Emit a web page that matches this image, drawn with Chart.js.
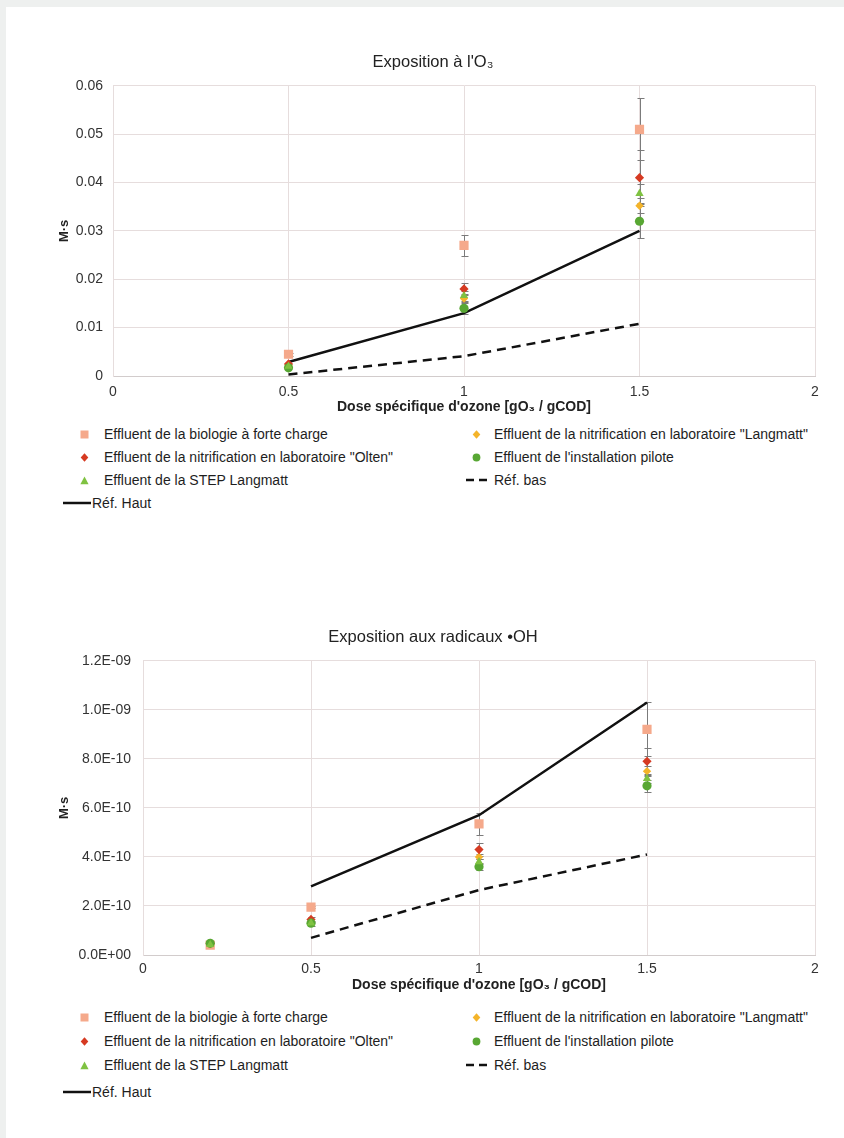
<!DOCTYPE html>
<html lang="fr">
<head>
<meta charset="utf-8">
<title>Exposition à l'O3 et aux radicaux OH</title>
<script src="https://cdn.jsdelivr.net/npm/chart.js@4.4.1/dist/chart.umd.min.js"></script>
<style>
  body { margin: 0; width: 844px; height: 1138px; background: #eef0ef; position: relative; overflow: hidden;
         font-family: 'Liberation Sans', Arial, sans-serif; }
  #panel { position: absolute; left: 6px; top: 7px; right: 0; bottom: 0; background: #fff; }
  .box { position: absolute; left: 0; width: 844px; }
  .item { position: absolute; white-space: nowrap; font-size: 14px; line-height: 16px; height: 16px; color: #1e1e1e;
          transform: translateY(-50%); }
  .sym { position: absolute; display: block; }
  .sym svg { display: block; }
</style>
</head>
<body>
<div id="panel"></div>
<div class="box" style="top:0;height:420px"><canvas id="chartO3"></canvas></div>
<div class="box" style="top:600px;height:400px"><canvas id="chartOH"></canvas></div>
<div id="legendO3"></div>
<div id="legendOH"></div>
<script>
// series names, legend order (Excel fills the legend row by row)
const seriesNames = [
    'Effluent de la biologie à forte charge',
    'Effluent de la nitrification en laboratoire "Langmatt"',
    'Effluent de la nitrification en laboratoire "Olten"',
    "Effluent de l'installation pilote",
    'Effluent de la STEP Langmatt',
    'Réf. bas',
    'Réf. Haut'
];

// --- exposition à l'O3 [M·s] ---
const o3Doses = [0.5, 1, 1.5];
const o3Bio = [0.0045, 0.027, 0.051];
const o3Langmatt = [0.0022, 0.016, 0.0352];
const o3Olten = [0.0025, 0.018, 0.041];
const o3Pilote = [0.0017, 0.014, 0.032];
const o3Step = [0.002, 0.0166, 0.0377];
const o3BioErr = [0.0003, 0.0022, 0.0064];
const o3LangmattErr = [0, 0.001, 0.0015];
const o3OltenErr = [0, 0.0012, 0.0058];
const o3PiloteErr = [0, 0.0012, 0.0035];
const o3StepErr = [0, 0.001, 0.002];
const o3RefDoses = [0.5, 1, 1.5];
const o3RefBas = [0.0003, 0.0041, 0.0108];
const o3RefHaut = [0.0029, 0.013, 0.030];
const o3YTicks = [0, 0.01, 0.02, 0.03, 0.04, 0.05, 0.06];

// --- exposition aux radicaux OH [M·s] ---
const ohDoses = [0.2, 0.5, 1, 1.5];
const ohBio = [4.0e-11, 1.95e-10, 5.35e-10, 9.2e-10];
const ohLangmatt = [4.5e-11, 1.35e-10, 4.0e-10, 7.5e-10];
const ohOlten = [4.8e-11, 1.45e-10, 4.3e-10, 7.9e-10];
const ohPilote = [4.8e-11, 1.3e-10, 3.6e-10, 6.9e-10];
const ohStep = [4.2e-11, 1.3e-10, 3.8e-10, 7.2e-10];
const ohBioErr = [0, 0.05e-10, 0.45e-10, 1.1e-10];
const ohLangmattErr = [0, 0, 0.1e-10, 0.2e-10];
const ohOltenErr = [0, 0.1e-10, 0.27e-10, 0.55e-10];
const ohPiloteErr = [0, 0.1e-10, 0.15e-10, 0.25e-10];
const ohStepErr = [0, 0, 0.1e-10, 0.2e-10];
const ohRefDoses = [0.5, 1, 1.5];
const ohRefBas = [0.7e-10, 2.65e-10, 4.1e-10];
const ohRefHaut = [2.8e-10, 5.7e-10, 1.03e-9];
const ohYTicks = [0, 2e-10, 4e-10, 6e-10, 8e-10, 1.0e-9, 1.2e-9];

const xTicks = [0, 0.5, 1, 1.5, 2];

const markerStyles = [
    { pointStyle: 'rect', radius: 6.5, color: '#f5a98b' },
    { pointStyle: 'rectRot', radius: 4.2, color: '#f4b42a' },
    { pointStyle: 'rectRot', radius: 4.6, color: '#d63a22' },
    { pointStyle: 'circle', radius: 4.6, color: '#58a733' },
    { pointStyle: 'triangle', radius: 4.8, color: '#7fc241' }
];

const fontFamily = "'Liberation Sans', Arial, sans-serif";

function pts(xs, ys) {
    return xs.map((x, i) => ({ x: x, y: ys[i] }));
}

function sci(v) {
    if (v === 0) return '0.0E+00';
    const parts = v.toExponential(1).split('e');
    const n = parseInt(parts[1], 10);
    return parts[0] + 'E' + (n < 0 ? '-' : '+') + String(Math.abs(n)).padStart(2, '0');
}

// error bars drawn under the markers
const errorBars = {
    id: 'errorBars',
    beforeDatasetsDraw(chart) {
        const { ctx, scales: { x, y } } = chart;
        ctx.save();
        ctx.strokeStyle = '#7b7b7b';
        ctx.lineWidth = 1;
        chart.data.datasets.forEach(ds => {
            if (!ds.errors) return;
            ds.data.forEach((p, j) => {
                const e = ds.errors[j];
                if (!e) return;
                const px = Math.round(x.getPixelForValue(p.x)) + 0.5;
                const top = Math.round(y.getPixelForValue(p.y + e)) + 0.5;
                const bot = Math.round(y.getPixelForValue(p.y - e)) + 0.5;
                ctx.beginPath();
                ctx.moveTo(px, top); ctx.lineTo(px, bot);
                ctx.moveTo(px - 3, top); ctx.lineTo(px + 4, top);
                ctx.moveTo(px - 3, bot); ctx.lineTo(px + 4, bot);
                ctx.stroke();
            });
        });
        ctx.restore();
    }
};

function buildDatasets(doses, series, errors, refDoses, refBas, refHaut) {
    const sets = series.map((vals, i) => ({
        label: seriesNames[i],
        data: pts(doses, vals),
        errors: errors[i],
        showLine: false,
        pointStyle: markerStyles[i].pointStyle,
        pointRadius: markerStyles[i].radius,
        backgroundColor: markerStyles[i].color,
        borderColor: markerStyles[i].color,
        borderWidth: 0,
        order: 5 - i
    }));
    sets.push({
        label: seriesNames[5], data: pts(refDoses, refBas), showLine: true,
        borderColor: '#111', borderWidth: 2.5, borderDash: [9, 6], pointRadius: 0, order: 7
    });
    sets.push({
        label: seriesNames[6], data: pts(refDoses, refHaut), showLine: true,
        borderColor: '#111', borderWidth: 2.5, pointRadius: 0, order: 6
    });
    return sets;
}

function makeChart(id, opts) {
    const grid = '#e6dddd';
    new Chart(document.getElementById(id), {
        type: 'scatter',
        data: { datasets: opts.datasets },
        options: {
            responsive: true,
            maintainAspectRatio: false,
            animation: false,
            events: [],
            layout: { padding: { left: 51, right: 29, top: 0, bottom: 0 } },
            plugins: {
                legend: { display: false },
                tooltip: { enabled: false },
                title: {
                    display: true,
                    text: opts.title,
                    color: '#222',
                    font: { family: fontFamily, size: 16.5, weight: 'normal', lineHeight: 1.2 },
                    padding: { top: opts.titleTop, bottom: 13 }
                }
            },
            scales: {
                x: {
                    type: 'linear', min: 0, max: 2,
                    afterBuildTicks: s => { s.ticks = xTicks.map(v => ({ value: v })); },
                    afterFit: s => { s.height = opts.xHeight; s.paddingLeft = 0; s.paddingRight = 0; },
                    grid: { color: grid, drawTicks: false },
                    border: { color: '#d2cccc' },
                    ticks: {
                        color: '#333', padding: opts.xTickPad, maxRotation: 0,
                        font: { family: fontFamily, size: 14 },
                        callback: v => String(v)
                    },
                    title: {
                        display: true, text: "Dose spécifique d'ozone [gO₃ / gCOD]", color: '#222',
                        font: { family: fontFamily, size: 14, weight: 'bold', lineHeight: 1.2 },
                        padding: { top: 0, bottom: opts.xTitleBottom }
                    }
                },
                y: {
                    type: 'linear', min: 0, max: opts.yMax,
                    afterBuildTicks: s => { s.ticks = opts.yTicks.map(v => ({ value: v })); },
                    afterFit: s => { s.width = opts.yWidth; s.paddingTop = 0; s.paddingBottom = 0; },
                    grid: { color: grid, drawTicks: false },
                    border: { color: grid },
                    ticks: {
                        color: '#333', padding: opts.yTickPad,
                        font: { family: fontFamily, size: 14 },
                        callback: opts.yFormat
                    },
                    title: {
                        display: true, text: 'M·s', color: '#222',
                        font: { family: fontFamily, size: 13, weight: 'bold', lineHeight: 1.2 },
                        padding: { top: 6, bottom: 0 }
                    }
                }
            }
        },
        plugins: [errorBars]
    });
}

function symbolSvg(i) {
    if (i === 6) {
        return '<svg width="28" height="6"><line x1="0" y1="3" x2="28" y2="3" stroke="#111" stroke-width="2.5"/></svg>';
    }
    if (i === 5) {
        return '<svg width="22" height="6"><line x1="0" y1="3" x2="8" y2="3" stroke="#111" stroke-width="2.5"/>' +
               '<line x1="13" y1="3" x2="21" y2="3" stroke="#111" stroke-width="2.5"/></svg>';
    }
    const c = markerStyles[i].color;
    const st = markerStyles[i].pointStyle;
    let shape = '';
    if (st === 'rect') shape = '<rect x="0.5" y="0.5" width="8" height="8" fill="' + c + '"/>';
    else if (st === 'rectRot') shape = '<polygon points="4.5,0.3 8.3,4.5 4.5,8.7 0.7,4.5" fill="' + c + '"/>';
    else if (st === 'circle') shape = '<circle cx="4.5" cy="4.5" r="3.9" fill="' + c + '"/>';
    else shape = '<polygon points="4.5,0.5 8.6,8.3 0.4,8.3" fill="' + c + '"/>';
    return '<svg width="9" height="9">' + shape + '</svg>';
}

function buildLegend(id, rowY) {
    const el = document.getElementById(id);
    const cols = [{ sym: 80, text: 104 }, { sym: 472, text: 494 }];
    seriesNames.forEach((name, i) => {
        const div = document.createElement('div');
        div.className = 'item';
        let symLeft, textLeft, y;
        if (i === 6) {
            symLeft = 63; textLeft = 92; y = rowY[3];
        } else {
            const col = cols[i % 2];
            y = rowY[Math.floor(i / 2)];
            textLeft = col.text;
            symLeft = i === 5 ? col.sym - 6 : col.sym;
        }
        div.style.left = textLeft + 'px';
        div.style.top = y + 'px';
        const span = document.createElement('span');
        span.textContent = name;
        const sym = document.createElement('span');
        sym.className = 'sym';
        sym.innerHTML = symbolSvg(i);
        const h = (i >= 5) ? 6 : 9;
        sym.style.left = (symLeft - textLeft) + 'px';
        sym.style.top = (8 - h / 2) + 'px';
        div.appendChild(sym);
        div.appendChild(span);
        el.appendChild(div);
    });
}

makeChart('chartO3', {
    title: "Exposition à l'O₃",
    titleTop: 53,
    datasets: buildDatasets(o3Doses,
        [o3Bio, o3Langmatt, o3Olten, o3Pilote, o3Step],
        [o3BioErr, o3LangmattErr, o3OltenErr, o3PiloteErr, o3StepErr],
        o3RefDoses, o3RefBas, o3RefHaut),
    yMax: 0.06, yTicks: o3YTicks, yWidth: 62, yTickPad: 10,
    yFormat: v => String(v),
    xHeight: 44, xTickPad: 8, xTitleBottom: 4
});

makeChart('chartOH', {
    title: 'Exposition aux radicaux •OH',
    titleTop: 28,
    datasets: buildDatasets(ohDoses,
        [ohBio, ohLangmatt, ohOlten, ohPilote, ohStep],
        [ohBioErr, ohLangmattErr, ohOltenErr, ohPiloteErr, ohStepErr],
        ohRefDoses, ohRefBas, ohRefHaut),
    yMax: 1.2e-9, yTicks: ohYTicks, yWidth: 92, yTickPad: 12,
    yFormat: sci,
    xHeight: 45, xTickPad: 6, xTitleBottom: 6
});

buildLegend('legendO3', [434, 457, 480, 503]);
buildLegend('legendOH', [1017, 1041, 1065, 1092]);
</script>
</body>
</html>
